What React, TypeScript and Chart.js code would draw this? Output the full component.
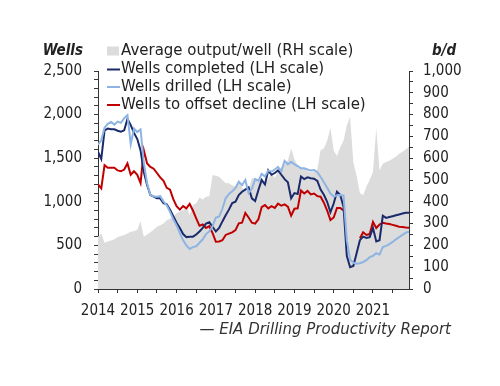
import React, { useEffect, useRef } from "react";
import { Chart, registerables } from "chart.js";

Chart.register(...registerables);

const START_YEAR = 2014;

// Average output per well, b/d (right-hand scale), monthly Jan 2014 - Dec 2021
const avgOutput = [
  240, 255, 212, 218, 222, 228, 238, 243, 248, 255,
  263, 265, 272, 311, 240, 250, 260, 272, 285, 292,
  300, 315, 322, 333, 348, 355, 362, 378, 339, 385,
  393, 420, 410, 423, 425, 523, 520, 515, 500, 485,
  485, 475, 470, 500, 465, 450, 455, 508, 510, 505,
  508, 480, 505, 531, 510, 540, 558, 572, 590, 645,
  595, 568, 560, 552, 540, 535, 538, 548, 638, 645,
  680, 740, 635, 610, 650, 680, 750, 790, 580, 520,
  440, 430, 470, 500, 538, 737, 545, 575, 582, 588,
  597, 607, 620, 630, 640, 653,
];

// Wells completed (left-hand scale)
const wellsCompleted = [
  1575, 1490, 1820, 1840, 1831, 1831, 1815, 1804, 1820, 1950,
  1880, 1790, 1720, 1590, 1340, 1193, 1078, 1060, 1040, 1040,
  985, 970, 910, 835, 760, 700, 630, 595, 600, 600,
  625, 660, 700, 750, 765, 714, 660, 700, 775, 845,
  910, 985, 1000, 1078, 1115, 1140, 1165, 1040, 1010, 1135,
  1250, 1200, 1360, 1310, 1330, 1360, 1310, 1260, 1225, 1040,
  1100, 1090, 1290, 1260, 1280, 1270, 1265, 1240, 1140, 1080,
  1000, 880, 980, 1116, 1078, 944, 380, 250, 265, 410,
  560, 600, 585, 595, 700, 545, 560, 840, 815, 825,
  835, 845, 855, 865, 875, 875,
];

// Wells drilled (left-hand scale)
const wellsDrilled = [
  1655, 1705, 1850, 1895, 1915, 1885, 1920, 1905, 1960, 1995,
  1660, 1840, 1800, 1830, 1450, 1212, 1078, 1060, 1059, 1065,
  1005, 960, 885, 800, 730, 640, 560, 500, 460, 480,
  490, 530, 570, 630, 660, 720, 820, 830, 920, 1040,
  1090, 1120, 1160, 1230, 1190, 1250, 1100, 1150, 1260, 1240,
  1320, 1290, 1360, 1345, 1370, 1400, 1350, 1470, 1430, 1460,
  1430, 1410, 1384, 1384, 1370, 1360, 1365, 1340, 1285, 1225,
  1160, 1095, 1060, 1075, 1078, 1070, 560, 340, 300, 290,
  295, 310, 330, 365, 380, 410, 395, 480, 495, 515,
  540, 570, 595, 620, 645, 657,
];

// Wells to offset decline (left-hand scale)
const wellsOffset: (number | null)[] = [
  1200, 1155, 1420, 1390, 1390, 1390, 1360, 1350, 1370, 1440,
  1310, 1350, 1310, 1215, 1590, 1440, 1400, 1380, 1330, 1280,
  1240, 1160, 1140, 1030, 950, 910, 950, 925, 975, 900,
  810, 725, 740, 700, 720, 640, 542, 545, 560, 620,
  635, 650, 675, 753, 760, 872, 820, 760, 750, 800,
  940, 963, 925, 950, 930, 980, 955, 970, 945, 840,
  920, 925, 1130, 1095, 1125, 1085, 1095, 1065, 1059, 990,
  900, 790, 820, 930, 930, 900, null, null, null, null,
  581, 650, 620, 630, 770, 700, 740, 760, 752, 745,
  735, 725, 715, 710, 705, 703,
];

const yearLabels = [2014, 2015, 2016, 2017, 2018, 2019, 2020, 2021];
const leftLabels = [0, 500, 1000, 1500, 2000, 2500];
const rightLabels = [0, 100, 200, 300, 400, 500, 600, 700, 800, 900, 1000];

const legendItems = [
  { text: "Average output/well (RH scale)", color: "#dcdcdc", kind: "box" },
  { text: "Wells completed (LH scale)", color: "#1b2a6b", kind: "line" },
  { text: "Wells drilled (LH scale)", color: "#8db4e2", kind: "line" },
  { text: "Wells to offset decline (LH scale)", color: "#c00000", kind: "line" },
];

const TICK_FONT = '"DejaVu Sans Condensed", "DejaVu Sans", sans-serif';
const TEXT_FONT = '"DejaVu Sans", sans-serif';

const toPoints = (vals: (number | null)[]) =>
  vals.map((v, i) => ({ x: START_YEAR + i / 12, y: v }));

export default function App() {
  const ref = useRef<HTMLCanvasElement | null>(null);

  useEffect(() => {
    if (!ref.current) return;
    const n = avgOutput.length;
    const xMax = START_YEAR + (n - 1) / 12;

    const xTicks: number[] = [];
    for (let v = START_YEAR; v <= xMax + 1e-9; v += 0.5) xTicks.push(v);
    const lTicks: number[] = [];
    for (let v = 0; v <= 2500; v += 100) lTicks.push(v);
    const rTicks: number[] = [];
    for (let v = 0; v <= 1000; v += 50) rTicks.push(v);

    const fmt = (v: number) => v.toLocaleString("en-US");

    const overlay = {
      id: "overlay",
      afterDraw(chart: any) {
        const ctx = chart.ctx;
        ctx.save();
        ctx.fillStyle = "#222";
        ctx.textBaseline = "middle";
        ctx.font = `italic bold 15px ${TICK_FONT}`;
        ctx.textAlign = "right";
        ctx.fillText("Wells", 83, 51);
        ctx.textAlign = "left";
        ctx.fillText("b/d", 432, 51);

        ctx.font = `15px ${TEXT_FONT}`;
        const rows = [51, 69.5, 87, 105];
        legendItems.forEach((it, k) => {
          const y = rows[k];
          if (it.kind === "box") {
            ctx.fillStyle = it.color;
            ctx.fillRect(107, y - 4.5, 12, 9);
          } else {
            ctx.strokeStyle = it.color;
            ctx.lineWidth = 2;
            ctx.beginPath();
            ctx.moveTo(107, y);
            ctx.lineTo(120, y);
            ctx.stroke();
          }
          ctx.fillStyle = "#222";
          ctx.fillText(it.text, 121, y);
        });

        ctx.font = `italic 15px ${TEXT_FONT}`;
        ctx.textAlign = "right";
        ctx.fillStyle = "#333";
        ctx.fillText("\u2014 EIA Drilling Productivity Report", 451, 330);
        ctx.restore();
      },
    };

    const gridOpts = {
      display: true,
      drawOnChartArea: false,
      drawTicks: true,
      tickLength: 4,
      color: "#333",
    };
    const borderOpts = { display: true, color: "#333", width: 1 };
    const tickFont = { family: TICK_FONT, size: 15 };

    const chart = new Chart(ref.current, {
      type: "line",
      data: {
        datasets: [
          {
            label: "Wells drilled (LH scale)",
            data: toPoints(wellsDrilled),
            borderColor: "#8db4e2",
            borderWidth: 2,
            pointRadius: 0,
            yAxisID: "y",
            order: 1,
            spanGaps: false,
          },
          {
            label: "Wells completed (LH scale)",
            data: toPoints(wellsCompleted),
            borderColor: "#1b2a6b",
            borderWidth: 2,
            pointRadius: 0,
            yAxisID: "y",
            order: 2,
          },
          {
            label: "Wells to offset decline (LH scale)",
            data: toPoints(wellsOffset),
            borderColor: "#c00000",
            borderWidth: 2,
            pointRadius: 0,
            yAxisID: "y",
            order: 3,
            spanGaps: false,
          },
          {
            label: "Average output/well (RH scale)",
            data: toPoints(avgOutput),
            borderColor: "#dcdcdc",
            backgroundColor: "#dcdcdc",
            borderWidth: 0,
            pointRadius: 0,
            fill: "origin",
            yAxisID: "y1",
            order: 10,
          },
        ],
      },
      options: {
        responsive: false,
        animation: false,
        layout: { padding: { left: 0, right: 0, top: 71, bottom: 67 } },
        plugins: {
          legend: { display: false },
          tooltip: { enabled: false },
        },
        elements: { line: { tension: 0 } },
        scales: {
          x: {
            type: "linear",
            min: START_YEAR,
            max: xMax,
            grid: gridOpts,
            border: borderOpts,
            afterBuildTicks: (axis: any) => {
              axis.ticks = xTicks.map((v) => ({ value: v }));
            },
            afterFit: (axis: any) => {
              axis.height = 30;
            },
            ticks: {
              autoSkip: false,
              maxRotation: 0,
              padding: 9,
              color: "#222",
              font: tickFont,
              callback: (v: any) => {
                const yr = yearLabels.find((y) => Math.abs(y - Number(v)) < 1e-6);
                return yr !== undefined ? String(yr) : "";
              },
            },
          },
          y: {
            type: "linear",
            position: "left",
            min: 0,
            max: 2500,
            grid: gridOpts,
            border: borderOpts,
            afterBuildTicks: (axis: any) => {
              axis.ticks = lTicks.map((v) => ({ value: v }));
            },
            afterFit: (axis: any) => {
              axis.width = 98;
            },
            ticks: {
              autoSkip: false,
              padding: 12,
              color: "#222",
              font: tickFont,
              callback: (v: any) => (leftLabels.includes(Number(v)) ? fmt(Number(v)) : ""),
            },
          },
          y1: {
            type: "linear",
            position: "right",
            min: 0,
            max: 1000,
            grid: gridOpts,
            border: borderOpts,
            afterBuildTicks: (axis: any) => {
              axis.ticks = rTicks.map((v) => ({ value: v }));
            },
            afterFit: (axis: any) => {
              axis.width = 91;
            },
            ticks: {
              autoSkip: false,
              padding: 10,
              color: "#222",
              font: tickFont,
              callback: (v: any) => (rightLabels.includes(Number(v)) ? fmt(Number(v)) : ""),
            },
          },
        },
      },
      plugins: [overlay],
    } as any);

    return () => chart.destroy();
  }, []);

  return (
    <div style={{ position: "absolute", left: 0, top: 0, width: 500, height: 386, background: "#fff" }}>
      <canvas ref={ref} width={500} height={386} style={{ display: "block" }} />
    </div>
  );
}
